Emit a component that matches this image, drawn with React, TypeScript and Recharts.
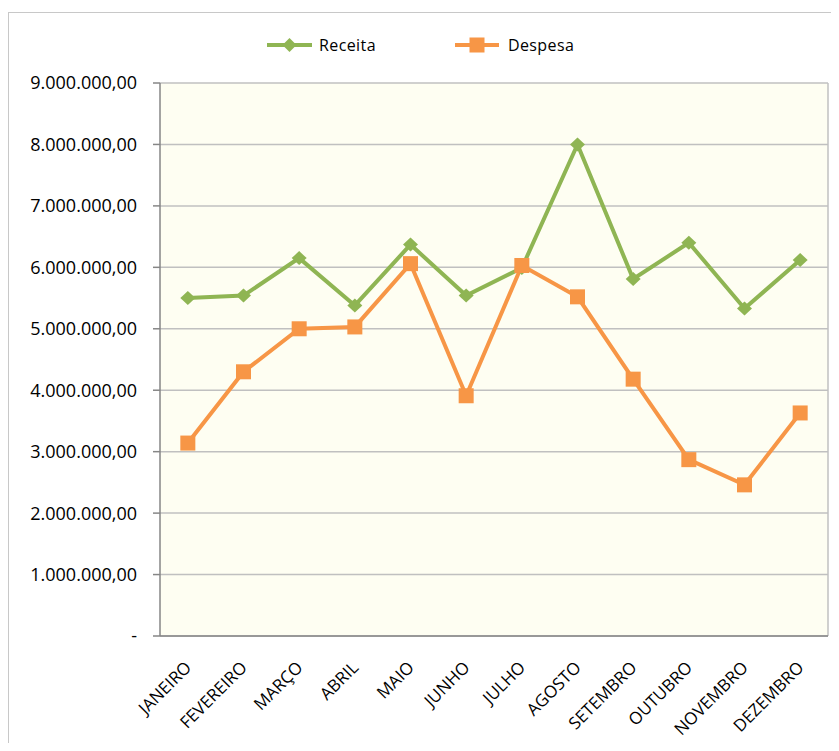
import React from "react";
import {
  LineChart,
  Line,
  XAxis,
  YAxis,
  CartesianGrid,
  Legend,
  ReferenceLine,
} from "recharts";

const months = [
  "JANEIRO",
  "FEVEREIRO",
  "MARÇO",
  "ABRIL",
  "MAIO",
  "JUNHO",
  "JULHO",
  "AGOSTO",
  "SETEMBRO",
  "OUTUBRO",
  "NOVEMBRO",
  "DEZEMBRO",
];
const receita = [
  5500000, 5540000, 6150000, 5380000, 6370000, 5540000, 5990000, 8000000,
  5810000, 6400000, 5330000, 6120000,
];
const despesa = [
  3140000, 4300000, 5000000, 5030000, 6060000, 3910000, 6030000, 5520000,
  4180000, 2870000, 2460000, 3630000,
];
const yTicks = [0, 1000000, 2000000, 3000000, 4000000, 5000000, 6000000, 7000000, 8000000, 9000000];
const boundaryTicks = [0, 1, 2, 3, 4, 5, 6, 7, 8, 9, 10, 11, 12];
const labelTicks = months.map((_, i) => i + 0.5);

const data = months.map((m, i) => ({
  month: m,
  pos: i + 0.5,
  Receita: receita[i],
  Despesa: despesa[i],
}));

const GREEN = "#8fb553";
const ORANGE = "#f79646";
const AXIS = "#868686";
const GRID = "#c0c0c0";
const FONT = "'Open Sans', sans-serif";

function fmt(v: number): string {
  if (v === 0) return "-";
  const s = Math.round(v).toString();
  const parts: string[] = [];
  for (let i = s.length; i > 0; i -= 3) parts.unshift(s.slice(Math.max(0, i - 3), i));
  return parts.join(".") + ",00";
}

const Diamond = (props: any) => {
  const { cx, cy } = props;
  if (cx == null || cy == null) return null;
  const w = 7.5, h = 7;
  return (
    <polygon
      points={`${cx},${cy - h} ${cx + w},${cy} ${cx},${cy + h} ${cx - w},${cy}`}
      fill={GREEN}
    />
  );
};

const Square = (props: any) => {
  const { cx, cy } = props;
  if (cx == null || cy == null) return null;
  const s = 7.5;
  return <rect x={cx - s} y={cy - s} width={s * 2} height={s * 2} fill={ORANGE} />;
};

const MonthTick = (props: any) => {
  const { x, y, payload } = props;
  const idx = Math.round(payload.value - 0.5);
  const label = months[idx] ?? "";
  return (
    <text
      x={x}
      y={y}
      transform={`rotate(-45, ${x}, ${y})`}
      textAnchor="end"
      dominantBaseline="central"
      fontFamily={FONT}
      fontSize={17}
      fill="#000"
    >
      {label}
    </text>
  );
};

const LegendContent = () => (
  <div style={{ height: 0, position: "relative" }}>
    <div
      style={{
        position: "absolute",
        left: 266,
        top: 0,
        display: "flex",
        alignItems: "center",
        fontFamily: FONT,
        fontSize: 16,
        letterSpacing: 0.4,
        color: "#000",
      }}
    >
      <svg width={47} height={18}>
        <line x1={1} y1={9} x2={46} y2={9} stroke={GREEN} strokeWidth={4} />
        <polygon points="23.5,2 30.5,9 23.5,16 16.5,9" fill={GREEN} />
      </svg>
      <span style={{ marginLeft: 6, marginRight: 78 }}>Receita</span>
      <svg width={46} height={18}>
        <line x1={1} y1={9} x2={45} y2={9} stroke={ORANGE} strokeWidth={4} />
        <rect x={15.5} y={1.5} width={15} height={15} fill={ORANGE} />
      </svg>
      <span style={{ marginLeft: 8 }}>Despesa</span>
    </div>
  </div>
);

export default function App() {
  return (
    <div style={{ position: "relative", margin: -8, width: 839, height: 751, overflow: "hidden", background: "#fff" }}>
      <div
        style={{
          position: "absolute",
          left: 7,
          top: 12,
          width: 850,
          height: 760,
          boxSizing: "border-box",
          borderTop: "1px solid #c8c8c8",
          borderLeft: "2px solid #c8c8c8",
        }}
      />
      <div style={{ position: "absolute", left: 0, top: 0 }}>
        <LineChart
          width={839}
          height={751}
          data={data}
          margin={{ top: 83, right: 11, left: 0, bottom: 0 }}
        >
          <Legend verticalAlign="top" content={LegendContent} wrapperStyle={{ top: 34, left: 0, width: 839 }} />
          <CartesianGrid
            xAxisId="lab"
            yAxisId="y"
            vertical={false}
            fill="#fefef2"
            stroke={GRID}
            strokeWidth={1.5}
          />
          <XAxis
            xAxisId="b"
            type="number"
            dataKey="pos"
            domain={[0, 12]}
            ticks={boundaryTicks}
            tick={false}
            tickSize={6}
            tickLine={{ stroke: AXIS, strokeWidth: 1.5 }}
            axisLine={{ stroke: AXIS, strokeWidth: 1.5 }}
            height={6}
            allowDataOverflow
          />
          <XAxis
            xAxisId="lab"
            type="number"
            dataKey="pos"
            domain={[0, 12]}
            ticks={labelTicks}
            tick={<MonthTick />}
            tickLine={false}
            axisLine={false}
            tickSize={0}
            tickMargin={22}
            height={109}
            interval={0}
            allowDataOverflow
          />
          <YAxis
            yAxisId="y"
            domain={[0, 9000000]}
            ticks={yTicks}
            tickFormatter={fmt}
            width={160}
            tickSize={7}
            tickMargin={16}
            interval={0}
            tick={{ fontFamily: FONT, fontSize: 18, fill: "#000" }}
            tickLine={{ stroke: AXIS, strokeWidth: 1.5 }}
            axisLine={{ stroke: AXIS, strokeWidth: 1.5 }}
          />
          <ReferenceLine xAxisId="lab" yAxisId="y" x={12} stroke={GRID} strokeWidth={1.5} />
          <Line
            xAxisId="lab"
            yAxisId="y"
            dataKey="Receita"
            stroke={GREEN}
            strokeWidth={4}
            dot={<Diamond />}
            activeDot={false}
            isAnimationActive={false}
          />
          <Line
            xAxisId="lab"
            yAxisId="y"
            dataKey="Despesa"
            stroke={ORANGE}
            strokeWidth={4}
            dot={<Square />}
            activeDot={false}
            isAnimationActive={false}
          />
        </LineChart>
      </div>
    </div>
  );
}
